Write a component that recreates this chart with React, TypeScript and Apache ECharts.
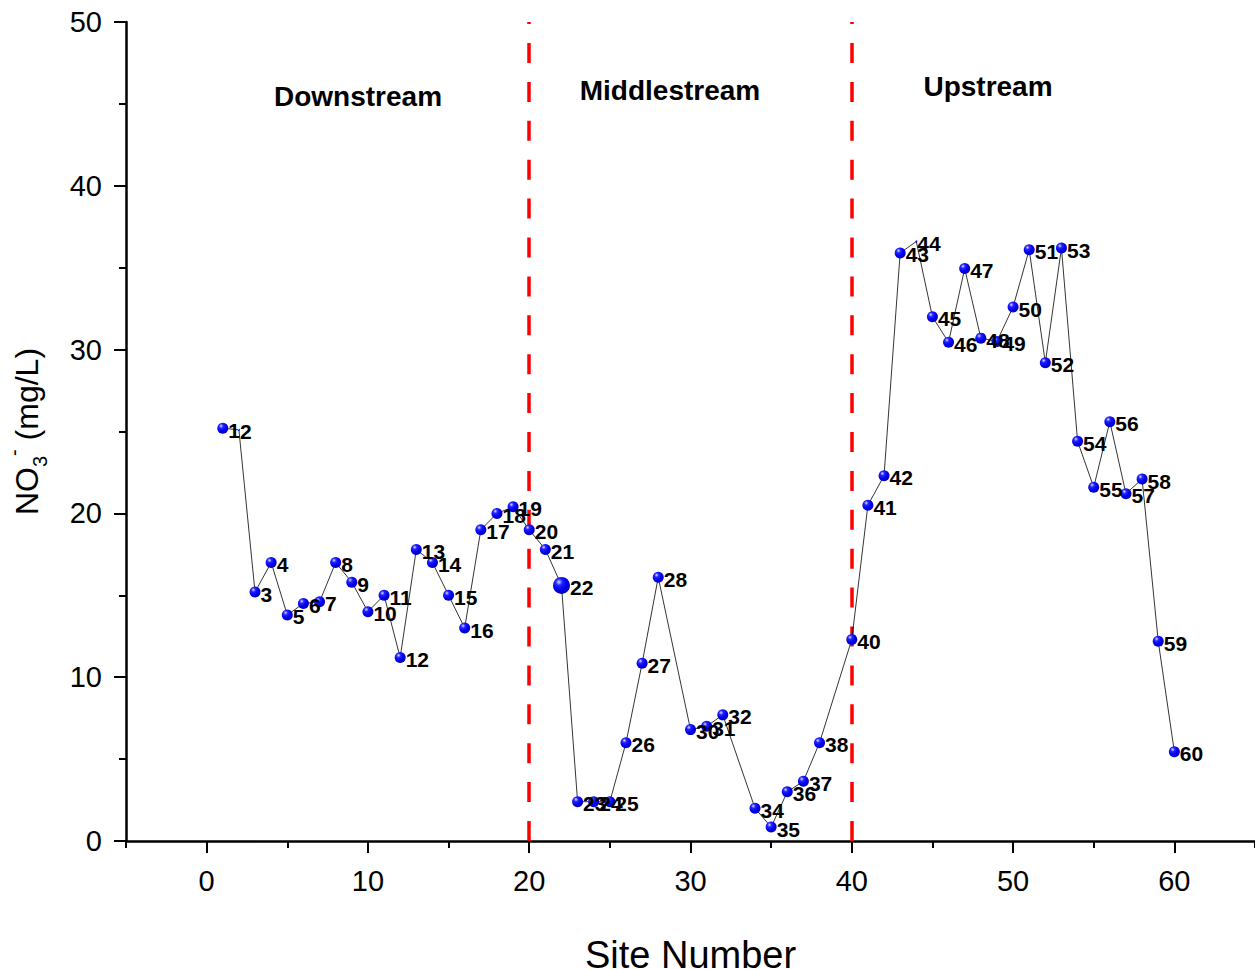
import React, { useEffect, useRef } from "react";
import * as echarts from "echarts";

const sites = [1, 2, 3, 4, 5, 6, 7, 8, 9, 10, 11, 12, 13, 14, 15, 16, 17, 18, 19, 20, 21, 22, 23, 24, 25, 26, 27, 28, 30, 31, 32, 34, 35, 36, 37, 38, 40, 41, 42, 43, 44, 45, 46, 47, 48, 49, 50, 51, 52, 53, 54, 55, 56, 57, 58, 59, 60];
const no3 = [25.2, 25.1, 15.2, 17.0, 13.8, 14.5, 14.6, 17.0, 15.8, 14.0, 15.0, 11.2, 17.8, 17.0, 15.0, 13.0, 19.0, 20.0, 20.4, 19.0, 17.8, 15.6, 2.4, 2.4, 2.4, 6.0, 10.85, 16.1, 6.8, 7.0, 7.7, 2.0, 0.85, 3.0, 3.65, 6.0, 12.3, 20.5, 22.3, 35.9, 36.6, 32.0, 30.45, 34.95, 30.7, 30.5, 32.6, 36.1, 29.2, 36.2, 24.4, 21.6, 25.6, 21.2, 22.1, 12.2, 5.45];
const boundaries = [20, 40];
const regionNames = ["Downstream", "Middlestream", "Upstream"];
const xMajorTicks = [0, 10, 20, 30, 40, 50, 60];
const xMinorTicks = [-5, 5, 15, 25, 35, 45, 55, 65];

const FONT = "'Liberation Sans', Arial, Helvetica, sans-serif";

export default function App() {
  const ref = useRef<HTMLDivElement>(null);
  useEffect(() => {
    if (!ref.current) return;
    const chart = echarts.init(ref.current, null, { renderer: "svg" });
    const sphere = {
      type: "radial",
      x: 0.35,
      y: 0.3,
      r: 0.65,
      colorStops: [
        { offset: 0, color: "#dcdcff" },
        { offset: 0.3, color: "#2424ff" },
        { offset: 0.7, color: "#0000f0" },
        { offset: 1, color: "#0000c4" },
      ],
    };
    const data = sites.map((s, i) => [s, no3[i]]);
    const regionPos = [
      [358, 96],
      [670, 90],
      [988, 86],
    ];
    chart.setOption({
      animation: false,
      backgroundColor: "#ffffff",
      grid: { left: 126, right: 0, top: 22, bottom: 128, containLabel: false, outerBoundsMode: "none" },
      xAxis: [
        {
          type: "value",
          min: -5,
          max: 65,
          name: "Site Number",
          nameLocation: "middle",
          nameGap: 95,
          nameTextStyle: { fontSize: 38, fontFamily: FONT, color: "#000" },
          axisLine: { show: true, onZero: false, lineStyle: { color: "#000", width: 2.5 } },
          axisTick: { show: true, customValues: xMajorTicks, length: 12, lineStyle: { color: "#000", width: 2 } },
          axisLabel: { show: true, customValues: xMajorTicks, fontSize: 29, fontFamily: FONT, color: "#000", margin: 25 },
          splitLine: { show: false },
        },
        {
          type: "value",
          min: -5,
          max: 65,
          position: "bottom",
          axisLine: { show: false, onZero: false },
          axisTick: { show: true, customValues: xMinorTicks, length: 7, lineStyle: { color: "#000", width: 2 } },
          axisLabel: { show: false },
          splitLine: { show: false },
        },
      ],
      yAxis: {
        type: "value",
        min: 0,
        max: 50,
        interval: 10,
        name: "{a|NO}{b|3}{c|-}{a| (mg/L)}",
        nameLocation: "middle",
        nameGap: 76,
        nameTextStyle: {
          fontSize: 32,
          fontFamily: FONT,
          color: "#000",
          rich: {
            a: { fontSize: 32, fontFamily: FONT, color: "#000", lineHeight: 46 },
            b: { fontSize: 20, fontFamily: FONT, color: "#000", lineHeight: 20, verticalAlign: "bottom" },
            c: { fontSize: 20, fontFamily: FONT, color: "#000", lineHeight: 20, verticalAlign: "top" },
          },
        },
        axisLine: { show: true, onZero: false, lineStyle: { color: "#000", width: 2.5 } },
        axisTick: { show: true, length: 12, lineStyle: { color: "#000", width: 2 } },
        minorTick: { show: true, splitNumber: 2, length: 7, lineStyle: { color: "#000", width: 2 } },
        axisLabel: { fontSize: 29, fontFamily: FONT, color: "#000", margin: 24 },
        splitLine: { show: false },
        minorSplitLine: { show: false },
      },
      graphic: regionNames.map((n, i) => ({
        type: "text",
        x: regionPos[i][0],
        y: regionPos[i][1],
        style: {
          text: n,
          fontSize: 28,
          fontWeight: "bold",
          fontFamily: FONT,
          fill: "#000",
          textAlign: "center",
          textVerticalAlign: "middle",
        },
      })),
      series: [
        {
          type: "line",
          data: [],
          z: 1,
          markLine: {
            silent: true,
            symbol: ["none", "none"],
            label: { show: false },
            lineStyle: { color: "#ff0000", width: 3.5, type: [20, 18.9] },
            data: boundaries.map((b) => [{ coord: [b, 0] }, { coord: [b, 50] }]),
          },
        },
        {
          type: "line",
          data,
          xAxisIndex: 0,
          symbol: "circle",
          symbolSize: (v: number[]) => (v[0] === 22 ? 17 : v[0] === 2 || v[0] === 44 ? 2 : 11),
          lineStyle: { color: "#000", width: 0.8 },
          itemStyle: { color: sphere, borderWidth: 0 },
          label: {
            show: true,
            position: "right",
            distance: 0,
            offset: [0, 2],
            formatter: (p: any) => String(p.value[0]),
            fontSize: 21,
            fontWeight: "bold",
            fontFamily: FONT,
            color: "#000",
          },
          z: 5,
        },
      ],
    });
    return () => chart.dispose();
  }, []);
  return <div ref={ref} style={{ position: "fixed", left: 0, top: 0, width: 1255, height: 969 }} />;
}
